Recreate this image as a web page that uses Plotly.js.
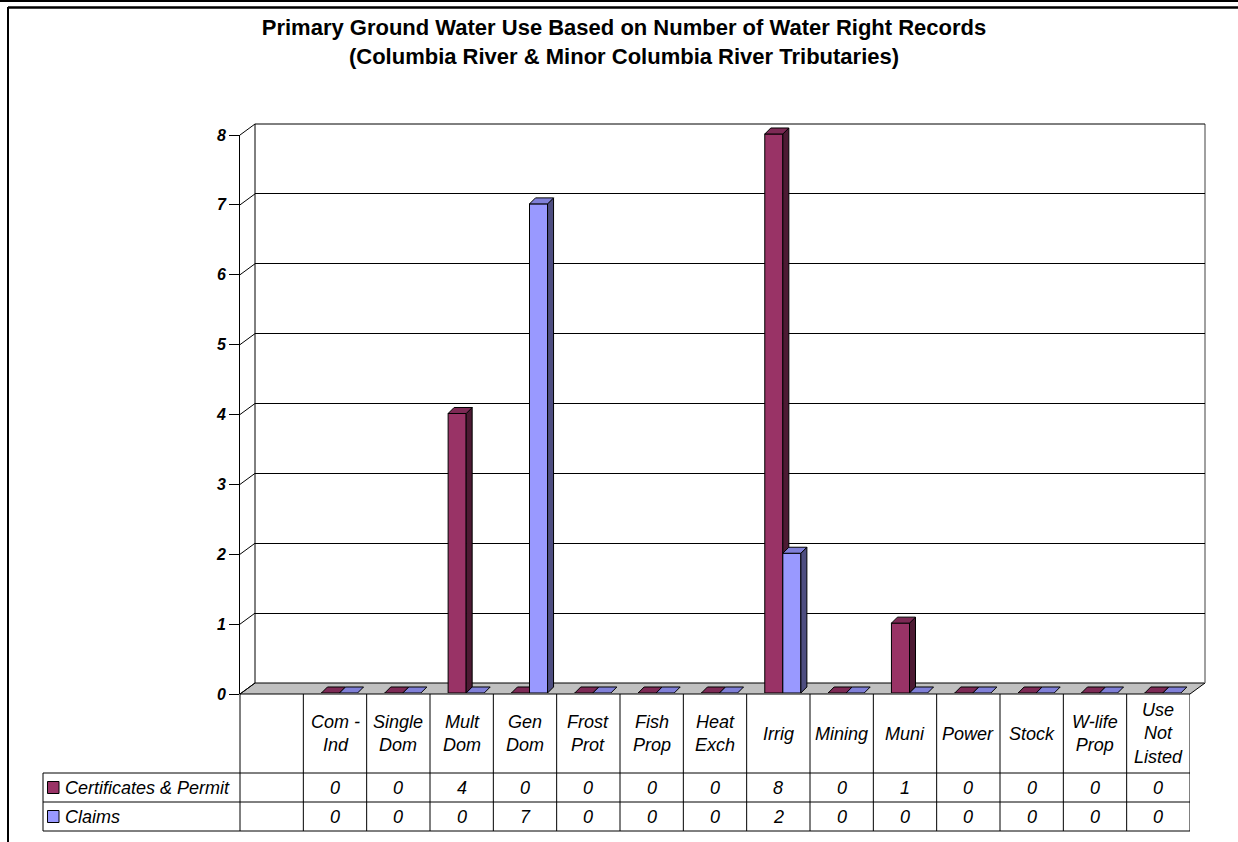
<!DOCTYPE html>
<html>
<head>
<meta charset="utf-8">
<script src="https://cdn.plot.ly/plotly-3.0.1.min.js"></script>
<style>
  html, body { margin: 0; padding: 0; background: #fff; }
  #chart { width: 1238px; height: 842px; }
</style>
</head>
<body>
<div id="chart"></div>
<script>
// ---- data ----
const categories = ['Com - Ind', 'Single Dom', 'Mult Dom', 'Gen Dom', 'Frost Prot', 'Fish Prop',
  'Heat Exch', 'Irrig', 'Mining', 'Muni', 'Power', 'Stock', 'W-life Prop', 'Use Not Listed'];
const categoryLabels = ['Com -<br>Ind', 'Single<br>Dom', 'Mult<br>Dom', 'Gen<br>Dom', 'Frost<br>Prot',
  'Fish<br>Prop', 'Heat<br>Exch', 'Irrig', 'Mining', 'Muni', 'Power', 'Stock', 'W-life<br>Prop',
  'Use<br>Not<br>Listed'];
const seriesNames = ['Certificates & Permit', 'Claims'];
const certificates = [0, 0, 4, 0, 0, 0, 0, 8, 0, 1, 0, 0, 0, 0];
const claims = [0, 0, 0, 7, 0, 0, 0, 2, 0, 0, 0, 0, 0, 0];
const chartTitle = 'Primary Ground Water Use Based on Number of Water Right Records<br>' +
  '(Columbia River & Minor Columbia River Tributaries)';

// ---- page geometry (pixels) ----
const W = 1238, H = 842;
const fx = p => p / W;
const fy = p => 1 - p / H;
const FONT = 'Liberation Sans, Arial, Helvetica, sans-serif';

const xRange = [-1.5, 13.5];          // one empty slot left of the first category
const front = { l: 240, r: 1190, y0: 694, y8: 135 };
const back = { l: 255, r: 1205, y0: 683, y8: 124 };
const unit = (front.y0 - front.y8) / 8;  // pixels per count
const barPlane = { l: 244.5, r: 1194.5, y0: 693 };
const barTop = 8.2;
const slot = (front.r - front.l) / 15;

// bar geometry in axis units
const barW = 0.285;
const depthX = 6 / slot;
const depthY = 6 / unit;

const idx = categories.map((_, i) => i);

function sidePolys(vals, offset) {
  const xs = [], ys = [];
  vals.forEach((v, i) => {
    if (v <= 0) return;
    const x1 = i + offset + barW;
    xs.push(x1, x1 + depthX, x1 + depthX, x1, x1, null);
    ys.push(0, depthY, v + depthY, v, 0, null);
  });
  return { xs, ys };
}
function topPolys(vals, offset) {
  const xs = [], ys = [];
  vals.forEach((v, i) => {
    const x0 = i + offset, x1 = x0 + barW;
    xs.push(x0, x1, x1 + depthX, x0 + depthX, x0, null);
    ys.push(v, v, v + depthY, v + depthY, v, null);
  });
  return { xs, ys };
}

const series = [
  { name: seriesNames[0], vals: certificates, offset: -barW, front: '#993366', top: '#7d2a55', side: '#4d1a33', xa: 'x2', ya: 'y2' },
  { name: seriesNames[1], vals: claims, offset: 0, front: '#9999ff', top: '#8080d8', side: '#4d4d80', xa: 'x3', ya: 'y3' }
];

const traces = [
  // back wall subplot (gridlines only)
  { type: 'scatter', x: [], y: [], xaxis: 'x', yaxis: 'y', hoverinfo: 'skip', showlegend: false }
];
series.forEach(s => {
  const sp = sidePolys(s.vals, s.offset);
  const tp = topPolys(s.vals, s.offset);
  traces.push({
    type: 'scatter', mode: 'lines', x: sp.xs, y: sp.ys, fill: 'toself', fillcolor: s.side,
    line: { color: '#000', width: 1 }, xaxis: s.xa, yaxis: s.ya, hoverinfo: 'skip', showlegend: false
  });
  traces.push({
    type: 'bar', name: s.name, x: idx, y: s.vals, width: barW, offset: s.offset,
    marker: { color: s.front, line: { color: '#000', width: 1 } },
    xaxis: s.xa, yaxis: s.ya, hoverinfo: 'skip', showlegend: false
  });
  traces.push({
    type: 'scatter', mode: 'lines', x: tp.xs, y: tp.ys, fill: 'toself', fillcolor: s.top,
    line: { color: '#000', width: 1 }, xaxis: s.xa, yaxis: s.ya, hoverinfo: 'skip', showlegend: false
  });
});
// front value axis subplot
traces.push({ type: 'scatter', x: [], y: [], xaxis: 'x4', yaxis: 'y4', hoverinfo: 'skip', showlegend: false });

// ---- shapes ----
const shapes = [];
const line = (x0, y0, x1, y1, color, width, layer) => shapes.push({
  type: 'line', xref: 'paper', yref: 'paper', x0: fx(x0), y0: fy(y0), x1: fx(x1), y1: fy(y1),
  line: { color: color || '#000', width: width || 1 }, layer: layer || 'above'
});

// outer frame
line(0, 1, W, 1, '#000', 2);
line(8, 7.5, W, 7.5, '#000', 2.5);
line(8, 7, 8, H, '#000', 2);

// floor
shapes.push({
  type: 'path', xref: 'paper', yref: 'paper', layer: 'below',
  path: `M ${fx(front.l)} ${fy(front.y0)} L ${fx(front.r)} ${fy(front.y0)} L ${fx(back.r)} ${fy(back.y0)} L ${fx(back.l)} ${fy(back.y0)} Z`,
  fillcolor: '#c0c0c0', line: { color: '#000', width: 1 }
});
// back wall edges
line(back.l, back.y8, back.l, back.y0, '#000', 1, 'below');
line(back.r, back.y8, back.r, back.y0, '#808080', 1.5, 'below');
line(back.l, back.y8, back.r, back.y8, '#000', 1, 'below');
// side wall diagonals at each tick
for (let k = 0; k <= 8; k++) {
  line(front.l, front.y0 - k * unit, back.l, back.y0 - k * unit, '#000', 1, 'below');
}

// data table grid
const rowTop = 773, row1 = 802, row2 = 831, keyLeft = 43;
[rowTop, row1, row2].forEach(y => line(keyLeft, y, front.r, y, '#000', 1));
line(keyLeft, rowTop, keyLeft, row2, '#000', 1);
line(front.l, front.y0, front.l, row2, '#000', 1);
for (let i = 0; i <= categories.length; i++) {
  shapes.push({
    type: 'line', xref: 'x4', yref: 'paper', x0: i - 0.5, x1: i - 0.5, y0: fy(front.y0), y1: fy(row2),
    line: { color: '#000', width: 1 }
  });
}
// legend keys
const rowMid = [(rowTop + row1) / 2, (row1 + row2) / 2];
series.forEach((s, r) => {
  shapes.push({
    type: 'rect', xref: 'paper', yref: 'paper', x0: fx(47.5), x1: fx(59), y0: fy(rowMid[r] - 6), y1: fy(rowMid[r] + 6),
    fillcolor: s.front, line: { color: '#000', width: 1 }
  });
});

// ---- annotations (table text) ----
const tFont = { family: FONT, size: 18, color: '#000', style: 'italic' };
const annotations = [];
categoryLabels.forEach((lab, i) => annotations.push({
  xref: 'x4', yref: 'paper', x: i, y: fy((front.y0 + rowTop) / 2), text: lab, showarrow: false,
  font: tFont, xanchor: 'center', yanchor: 'middle', align: 'center'
}));
series.forEach((s, r) => {
  annotations.push({
    xref: 'paper', yref: 'paper', x: fx(63), y: fy(rowMid[r]), text: s.name, showarrow: false,
    font: tFont, xanchor: 'left', yanchor: 'middle'
  });
  s.vals.forEach((v, i) => annotations.push({
    xref: 'x4', yref: 'paper', x: i, y: fy(rowMid[r]), text: String(v), showarrow: false,
    font: tFont, xanchor: 'center', yanchor: 'middle'
  }));
});

const hidden = { visible: false, fixedrange: true };
const layout = {
  width: W, height: H,
  margin: { l: 0, r: 0, t: 0, b: 0, pad: 0 },
  paper_bgcolor: '#fff', plot_bgcolor: 'rgba(0,0,0,0)',
  showlegend: false,
  barmode: 'overlay',
  title: {
    text: chartTitle, x: fx(624), xanchor: 'center', xref: 'paper',
    y: fy(35), yanchor: 'top', yref: 'paper',
    font: { family: FONT, size: 22, color: '#000', weight: 'bold' }
  },
  // back wall
  xaxis: Object.assign({ domain: [fx(back.l), fx(back.r)], range: xRange, anchor: 'y' }, hidden),
  yaxis: {
    domain: [fy(back.y0), fy(back.y8)], range: [0, 8], dtick: 1, anchor: 'x',
    showgrid: true, gridcolor: '#000', gridwidth: 1, zeroline: false,
    showticklabels: false, ticks: '', showline: false, fixedrange: true
  },
  // bar plane
  xaxis2: Object.assign({ domain: [fx(barPlane.l), fx(barPlane.r)], range: xRange, anchor: 'y2' }, hidden),
  yaxis2: Object.assign({ domain: [fy(barPlane.y0), fy(barPlane.y0 - barTop * unit)], range: [0, barTop], anchor: 'x2' }, hidden),
  xaxis3: Object.assign({ overlaying: 'x2', range: xRange, anchor: 'y3' }, hidden),
  yaxis3: Object.assign({ overlaying: 'y2', range: [0, barTop], anchor: 'x3' }, hidden),
  // front value axis
  xaxis4: Object.assign({ domain: [fx(front.l), fx(front.r)], range: xRange, anchor: 'y4' }, hidden),
  yaxis4: {
    domain: [fy(front.y0), fy(front.y8)], range: [0, 8], dtick: 1, anchor: 'x4',
    showline: true, linecolor: '#000', linewidth: 1, ticks: 'outside', ticklen: 10,
    tickcolor: '#000', tickwidth: 1, showgrid: false, zeroline: false, fixedrange: true,
    tickfont: { family: FONT, size: 16, color: '#000', weight: 'bold', style: 'italic' }
  },
  shapes, annotations
};

Plotly.newPlot('chart', traces, layout, { staticPlot: true, displayModeBar: false });
</script>
</body>
</html>
